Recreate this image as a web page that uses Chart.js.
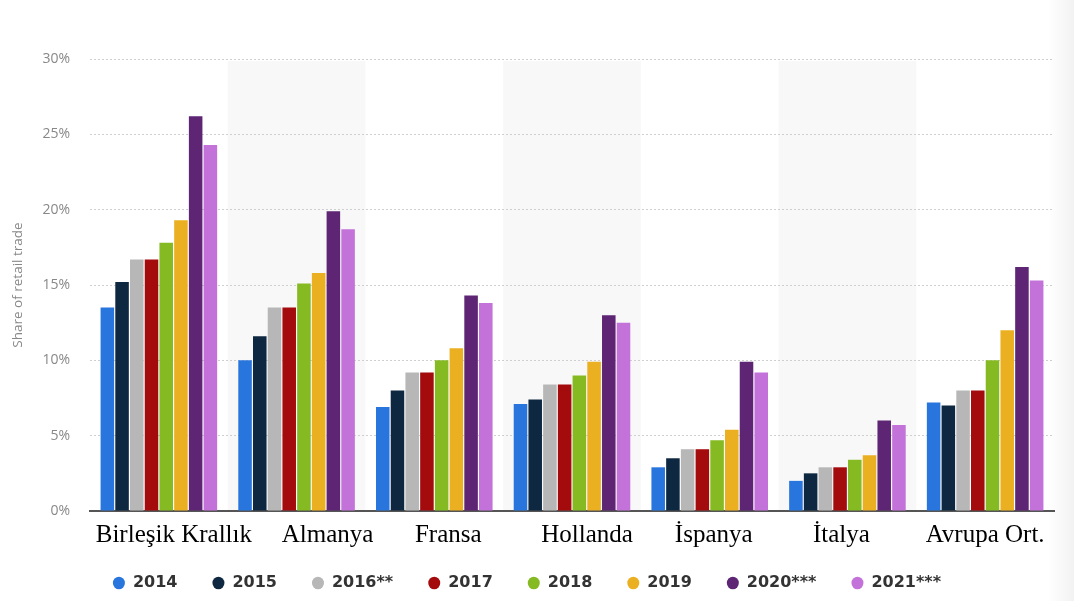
<!DOCTYPE html>
<html><head><meta charset="utf-8">
<script src="https://cdn.jsdelivr.net/npm/chart.js@4.4.1/dist/chart.umd.min.js"></script>
<style>html,body{margin:0;padding:0;background:#fff;} #wrap{width:1074px;height:601px;position:relative;background:linear-gradient(to right,#fff 0,#fff 1048px,#f2f2f2 1074px);}</style>
</head><body><div id="wrap"><canvas id="c" width="1074" height="601"></canvas></div>
<script>
const categories = ['Birleşik Krallık','Almanya','Fransa','Hollanda','İspanya','İtalya','Avrupa Ort.'];
const years = ['2014','2015','2016**','2017','2018','2019','2020***','2021***'];
const v2014 = [13.5, 10.0, 6.9, 7.1, 2.9, 2.0, 7.2];
const v2015 = [15.2, 11.6, 8.0, 7.4, 3.5, 2.5, 7.0];
const v2016 = [16.7, 13.5, 9.2, 8.4, 4.1, 2.9, 8.0];
const v2017 = [16.7, 13.5, 9.2, 8.4, 4.1, 2.9, 8.0];
const v2018 = [17.8, 15.1, 10.0, 9.0, 4.7, 3.4, 10.0];
const v2019 = [19.3, 15.8, 10.8, 9.9, 5.4, 3.7, 12.0];
const v2020 = [26.2, 19.9, 14.3, 13.0, 9.9, 6.0, 16.2];
const v2021 = [24.3, 18.7, 13.8, 12.5, 9.2, 5.7, 15.3];
const seriesValues = [v2014, v2015, v2016, v2017, v2018, v2019, v2020, v2021];
const colors = ['#2876dd','#0f2841','#b7b7b7','#a30b0c','#85ba23','#ebb022','#5d2574','#c372d9'];
const labelShift = [15, 31, 14, 15, 4, -6, 0];

const bandPlugin = {
  id: 'bands',
  beforeDraw(chart) {
    const xs = chart.scales.x, ca = chart.chartArea, ctx = chart.ctx;
    const w = (ca.right - ca.left) / categories.length;
    ctx.save();
    ctx.fillStyle = '#f8f8f8';
    categories.forEach((c, i) => {
      if (i % 2 === 1) {
        const left = xs.getPixelForValue(i) - w / 2;
        ctx.fillRect(left, ca.top + 2, w, ca.bottom - ca.top - 2);
      }
    });
    ctx.restore();
  }
};
const catLabelPlugin = {
  id: 'catLabels',
  afterDraw(chart) {
    const xs = chart.scales.x, ctx = chart.ctx;
    ctx.save();
    ctx.font = '25px "Liberation Serif"';
    ctx.fillStyle = '#000';
    ctx.textAlign = 'center';
    ctx.textBaseline = 'alphabetic';
    categories.forEach((c, i) => {
      ctx.fillText(c, xs.getPixelForValue(i) + labelShift[i], 542);
    });
    ctx.restore();
  }
};

new Chart(document.getElementById('c'), {
  type: 'bar',
  data: {
    labels: categories,
    datasets: years.map((y, i) => ({
      label: y,
      data: seriesValues[i],
      backgroundColor: colors[i],
      borderColor: colors[i],
      borderWidth: 0,
      pointStyle: 'circle',
      categoryPercentage: 0.855,
      barPercentage: 0.92
    }))
  },
  options: {
    responsive: false,
    animation: false,
    layout: { padding: { top: 59, right: 20, bottom: 0, left: 0 } },
    plugins: {
      tooltip: { enabled: false },
      legend: {
        position: 'bottom',
        labels: {
          usePointStyle: true,
          pointStyleWidth: 12,
          boxHeight: 9,
          padding: 35,
          color: '#333',
          font: { family: 'DejaVu Sans', size: 16, weight: 'bold' }
        }
      }
    },
    scales: {
      x: {
        grid: { display: false, drawTicks: false },
        border: { display: true, color: '#555', width: 2 },
        ticks: { display: false },
        afterFit(s) { s.height = 29; }
      },
      y: {
        min: 0, max: 30,
        ticks: { stepSize: 5, callback: v => v + '%', color: '#888', padding: 20,
          font: { family: 'Open Sans', size: 14 } },
        grid: { color: '#cfcfcf', drawTicks: false, lineWidth: 1 },
        border: { display: false, dash: [2, 2] },
        title: { display: true, text: 'Share of retail trade', color: '#888',
          font: { family: 'Open Sans', size: 13.5 }, padding: { top: 10, bottom: 0 } },
        afterFit(s) { s.width = 90; }
      }
    }
  },
  plugins: [bandPlugin, catLabelPlugin]
});
</script></body></html>
